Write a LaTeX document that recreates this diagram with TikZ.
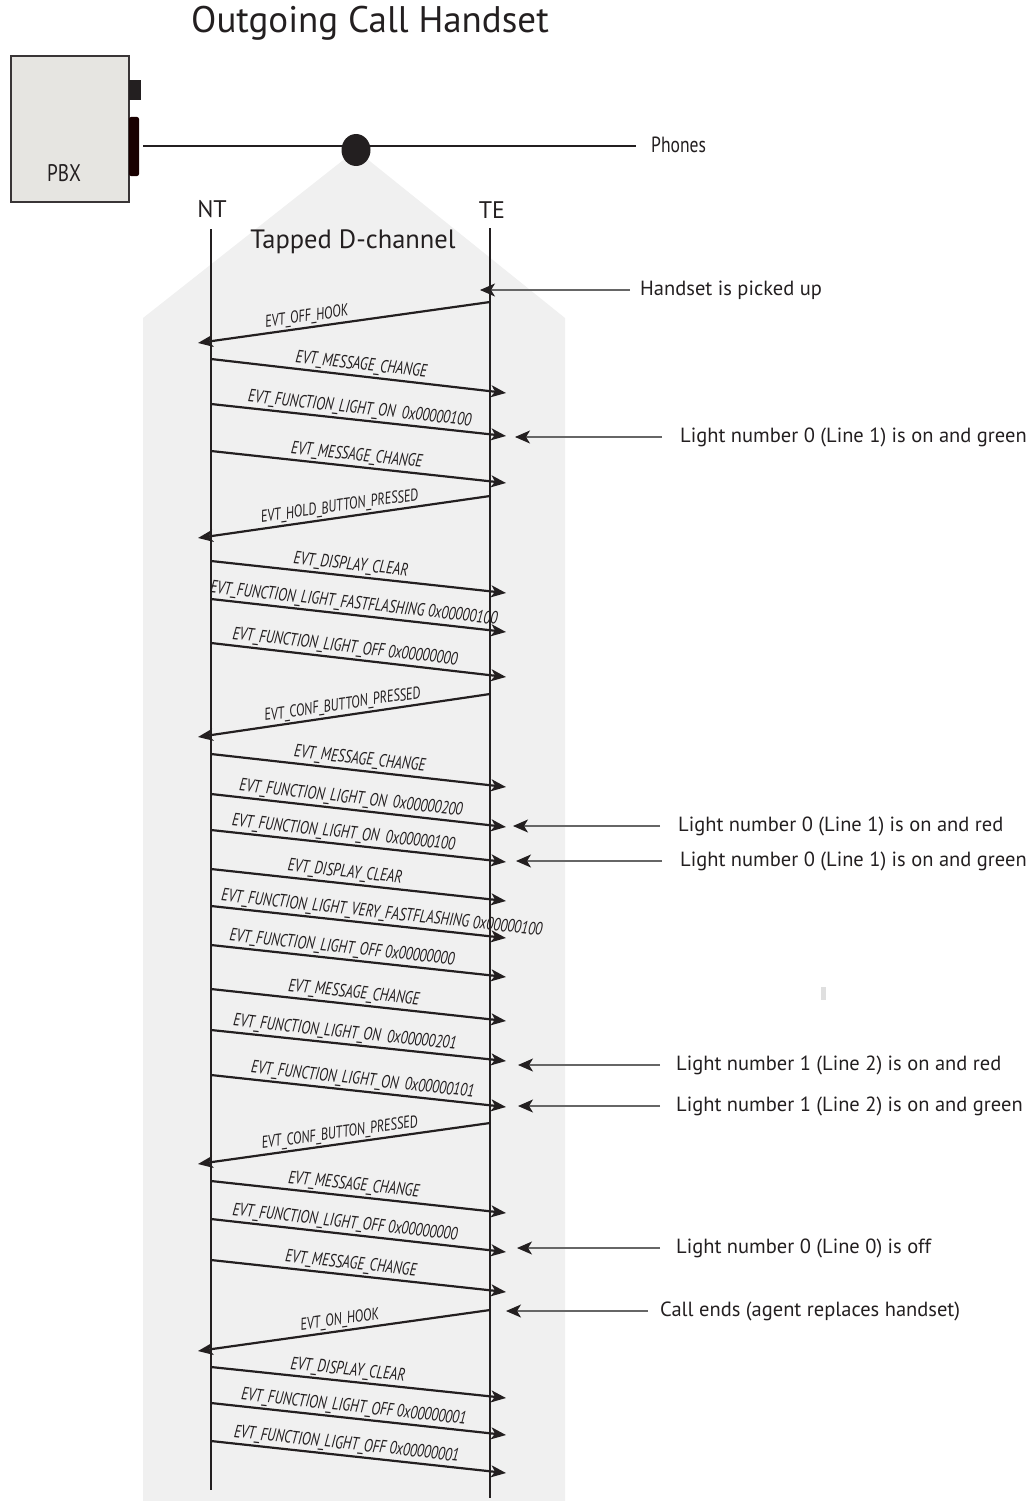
\documentclass[tikz,border=0pt]{standalone}
\usepackage{fontspec}
\setmainfont{PT Sans}
\newfontfamily\condfam[FakeStretch=0.8]{PT Sans}
\newfontfamily\lblfam[FakeStretch=0.75]{PT Sans}
\usetikzlibrary{arrows.meta}
\definecolor{ink}{HTML}{231F20}
\definecolor{bggray}{HTML}{F0F0F0}
\definecolor{pbxfill}{HTML}{E6E5E1}
\definecolor{annline}{HTML}{666666}
\tikzset{
  tip/.tip={Stealth[length=15pt,width=12pt,inset=4pt]},
  anntip/.tip={Stealth[length=15pt,width=13pt,inset=4pt,color=ink]},
  msg/.style={draw=ink, line width=2.2pt, -tip},
  msgl/.style={draw=ink, line width=2.2pt, tip-},
  lbl/.style={font=\lblfam\itshape\fontsize{18}{20}\selectfont, text=ink, sloped, above, inner sep=1.5pt},
  lbll/.style={font=\lblfam\itshape\fontsize{17}{19}\selectfont, text=ink, sloped, above, inner sep=1.5pt},
  ann/.style={draw=annline, line width=1.1pt, -anntip},
  anntext/.style={font=\fontsize{20.5}{22}\selectfont, text=ink, anchor=west, inner sep=0pt},
  lifeline/.style={draw=ink, line width=2.4pt},
  heading/.style={font=\fontsize{24}{26}\selectfont, text=ink, inner sep=0pt}
}
\begin{document}
\begin{tikzpicture}[x=1pt,y=-1pt]
\useasboundingbox (0,0) rectangle (1031,1501);
% tapped channel background
\fill[bggray] (356,150) -- (143,318) -- (143,1501) -- (565,1501) -- (565,318) -- cycle;
\fill[gray!25] (821,987) rectangle (826,1000);
% title
\node[font=\fontsize{37}{39}\selectfont, text=ink, inner sep=0pt] (title) at (370,23) {Outgoing Call Handset};
% PBX
\node[draw=ink!90, fill=pbxfill, line width=2pt, minimum width=118pt, minimum height=146pt, inner sep=0pt] (pbx) at (70,129) {};
\node[font=\condfam\fontsize{24}{26}\selectfont, text=ink, inner sep=0pt] (pbxlabel) at (64,173) {PBX};
\fill[ink] (129,80) rectangle (141,100);
\fill[black!90!red, rounded corners=2pt] (129,117) rectangle (139,176);
% bus line
\coordinate (busL) at (143,146);
\coordinate (busR) at (636,146);
\draw[draw=ink, line width=2.4pt] (busL) -- (busR);
\node[font=\condfam\fontsize{22}{24}\selectfont, text=ink, anchor=west, inner sep=0pt] (phones) at (651,145) {Phones};
\fill[ink] (356,150) ellipse [x radius=14.5, y radius=16];
% lifelines
\node[heading] (nt) at (212,209) {NT};
\node[heading] (te) at (492,210) {TE};
\node[font=\fontsize{26.5}{28}\selectfont, text=ink, inner sep=0pt] (tap) at (353,242) {Tapped D-channel};
\coordinate (ntTop) at (211,229);
\coordinate (ntBot) at (211,1490);
\coordinate (teTop) at (490,228);
\coordinate (teBot) at (490,1498);
\draw[lifeline] (ntTop) -- (ntBot);
\draw[lifeline] (teTop) -- (teBot);
% NT -> TE messages
\foreach \ya/\yb/\p/\t [count=\i] in {
  359/393/0.505/EVT\_MESSAGE\_CHANGE,
  404/436/0.50/EVT\_FUNCTION\_LIGHT\_ON\hspace{0.35em}0x00000100,
  451/483/0.49/EVT\_MESSAGE\_CHANGE,
  561/593/0.47/EVT\_DISPLAY\_CLEAR,
  599/632/0.48/EVT\_FUNCTION\_LIGHT\_FASTFLASHING 0x00000100,
  643/677/0.45/EVT\_FUNCTION\_LIGHT\_OFF 0x00000000,
  754/787/0.50/EVT\_MESSAGE\_CHANGE,
  794/827/0.47/EVT\_FUNCTION\_LIGHT\_ON\hspace{0.35em}0x00000200,
  830/862/0.445/EVT\_FUNCTION\_LIGHT\_ON\hspace{0.35em}0x00000100,
  869/901/0.45/EVT\_DISPLAY\_CLEAR,
  906/938/0.575/EVT\_FUNCTION\_LIGHT\_VERY\_FASTFLASHING 0x00000100,
  945/977/0.44/EVT\_FUNCTION\_LIGHT\_OFF 0x00000000,
  989/1021/0.48/EVT\_MESSAGE\_CHANGE,
  1030/1061/0.45/EVT\_FUNCTION\_LIGHT\_ON\hspace{0.35em}0x00000201,
  1075/1107/0.51/EVT\_FUNCTION\_LIGHT\_ON\hspace{0.35em}0x00000101,
  1181/1213/0.48/EVT\_MESSAGE\_CHANGE,
  1219/1252/0.45/EVT\_FUNCTION\_LIGHT\_OFF 0x00000000,
  1260/1292/0.47/EVT\_MESSAGE\_CHANGE,
  1367/1398/0.46/EVT\_DISPLAY\_CLEAR,
  1403/1435/0.48/EVT\_FUNCTION\_LIGHT\_OFF 0x00000001,
  1441/1473/0.455/EVT\_FUNCTION\_LIGHT\_OFF 0x00000001}{
  \coordinate (r\i s) at (211,\ya);
  \coordinate (r\i e) at (506,\yb);
  \draw[msg] (r\i s) -- node[lbl, pos=\p] {\t} (r\i e);
}
% TE -> NT messages
\foreach \ya/\yb/\p/\t [count=\i] in {
  302/343/0.377/EVT\_OFF\_HOOK,
  496/538/0.49/EVT\_HOLD\_BUTTON\_PRESSED,
  694/737/0.50/EVT\_CONF\_BUTTON\_PRESSED,
  1123/1164/0.49/EVT\_CONF\_BUTTON\_PRESSED,
  1310/1351/0.49/EVT\_ON\_HOOK}{
  \coordinate (l\i s) at (490,\ya);
  \coordinate (l\i e) at (198,\yb);
  \draw[msgl] (l\i e) -- node[lbll, pos=\p] {\t} (l\i s);
}
% annotations
\foreach \y/\tx/\lx/\xx/\t [count=\i] in {
  290/480/630/640/Handset is picked up,
  437/515/662/680/Light number 0 (Line 1) is on and green,
  826/513/660/678/Light number 0 (Line 1) is on and red,
  861/516/662/680/Light number 0 (Line 1) is on and green,
  1065/518/660/676/Light number 1 (Line 2) is on and red,
  1106/518/660/676/Light number 1 (Line 2) is on and green,
  1248/517/660/676/Light number 0 (Line 0) is off,
  1311/506/648/660/Call ends (agent replaces handset)}{
  \node[anntext] (a\i) at (\xx,\y) {\t};
  \coordinate (a\i l) at (\lx,\y);
  \coordinate (a\i t) at (\tx,\y);
  \draw[ann] (a\i l) -- (a\i t);
}
\end{tikzpicture}
\end{document}
